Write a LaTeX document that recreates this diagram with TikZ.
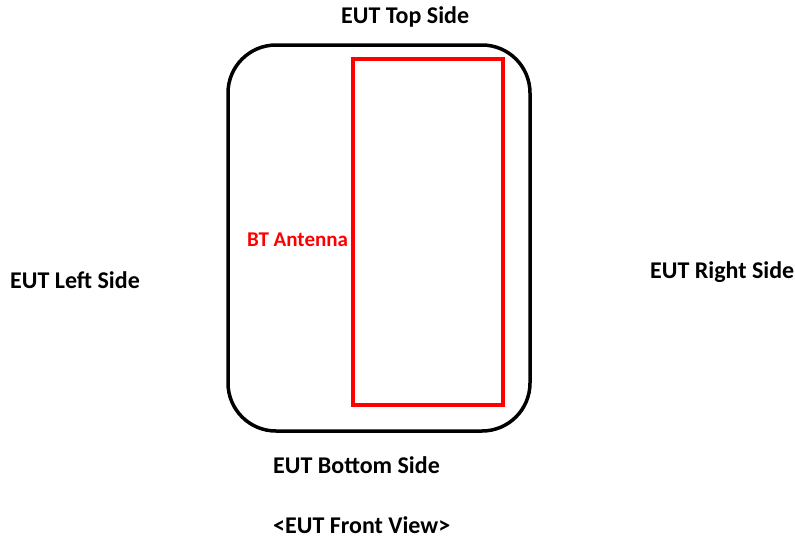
\documentclass[tikz,border=0pt]{standalone}
\usepackage{fontspec}
\setmainfont{Carlito}
\begin{document}
\begin{tikzpicture}[x=1pt,y=-1pt,
  lbl/.style={font=\fontsize{24}{29}\selectfont\bfseries, inner sep=0pt, anchor=west},
  redlbl/.style={lbl, font=\fontsize{21}{25}\selectfont\bfseries, text=red},
  body/.style={draw=black, line width=3.5pt, rounded corners=48pt},
  antenna/.style={draw=red, line width=3.5pt}]
\useasboundingbox (0,0) rectangle (795,538);
\draw[body] (228,45) rectangle (530,431);
\draw[antenna] (353,59) rectangle (503,405);
\node[lbl] (top) at (341,17) {EUT Top Side};
\node[redlbl] (ant) at (247,240) {BT Antenna};
\node[lbl] (left) at (10,280) {EUT Left Side};
\node[lbl] (right) at (650,272) {EUT Right Side};
\node[lbl] (bottom) at (273,465) {EUT Bottom Side};
\node[lbl] (front) at (273,525) {<EUT Front View>};
\end{tikzpicture}
\end{document}
